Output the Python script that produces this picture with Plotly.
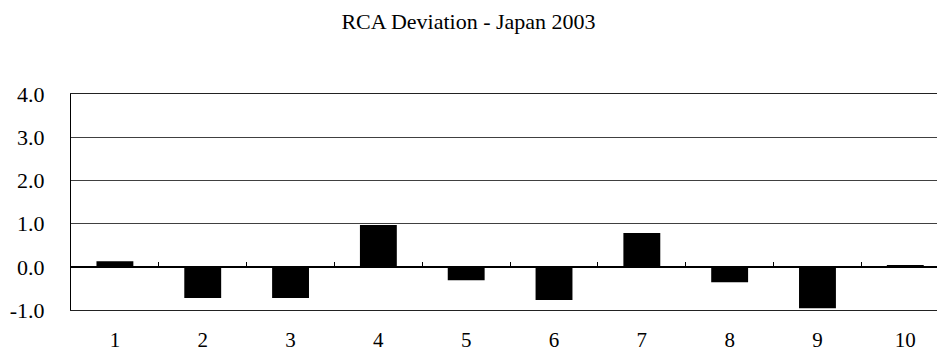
import plotly.graph_objects as go

categories = [1, 2, 3, 4, 5, 6, 7, 8, 9, 10]
rca_deviation = [0.13, -0.72, -0.72, 0.97, -0.31, -0.77, 0.78, -0.36, -0.96, 0.04]
y_tickvals = [-1, 0, 1, 2, 3, 4]
y_ticktext = ["-1.0", "0.0", "1.0", "2.0", "3.0", "4.0"]
title_text = "RCA Deviation - Japan 2003"

FONT = "Liberation Serif, Times New Roman, serif"
x_range = [0.5, 10.361]
boundaries = [c + 0.5 for c in categories[:-1]]

fig = go.Figure()
fig.add_trace(go.Bar(x=categories, y=rca_deviation, marker=dict(color="black", line=dict(width=0)),
                     hoverinfo="x+y", showlegend=False))
fig.add_trace(go.Scatter(x=categories, y=rca_deviation, xaxis="x2", yaxis="y", mode="markers",
                         marker=dict(opacity=0), hoverinfo="skip", showlegend=False))

fig.update_layout(
    width=937, height=352,
    margin=dict(l=71, r=0, t=94, b=42, autoexpand=False),
    paper_bgcolor="white", plot_bgcolor="white",
    font=dict(family=FONT, size=21, color="black"),
    title=dict(text=title_text, x=0.5, xanchor="center", y=0.94, yanchor="middle", yref="container",
               font=dict(family=FONT, size=22, color="black")),
    bargap=0.58,
    xaxis=dict(range=x_range, tickmode="array", tickvals=categories, ticktext=[str(c) for c in categories],
               showgrid=False, zeroline=False, showline=True, mirror=True, linecolor="#222222", linewidth=1,
               ticks="", ticklabelstandoff=11, automargin=False,
               tickfont=dict(family=FONT, size=21, color="black")),
    xaxis2=dict(range=x_range, overlaying="x", anchor="free", position=0.2, side="bottom",
                tickmode="array", tickvals=boundaries, ticks="inside", ticklen=5, tickwidth=1, tickcolor="black",
                showticklabels=False, showgrid=False, zeroline=False, showline=True, linecolor="black", linewidth=1,
                automargin=False),
    yaxis=dict(range=[-1, 4], tickmode="array", tickvals=y_tickvals, ticktext=y_ticktext,
               showgrid=True, gridcolor="#404040", gridwidth=1, zeroline=True, zerolinecolor="black", zerolinewidth=1,
               showline=True, linecolor="black", linewidth=1, ticks="", ticklabelstandoff=21, automargin=False,
               tickfont=dict(family=FONT, size=22, color="black")),
)

fig.write_html("out.html", config={"displayModeBar": False},
               post_script="document.body.style.margin='0';document.body.style.overflow='hidden';")
